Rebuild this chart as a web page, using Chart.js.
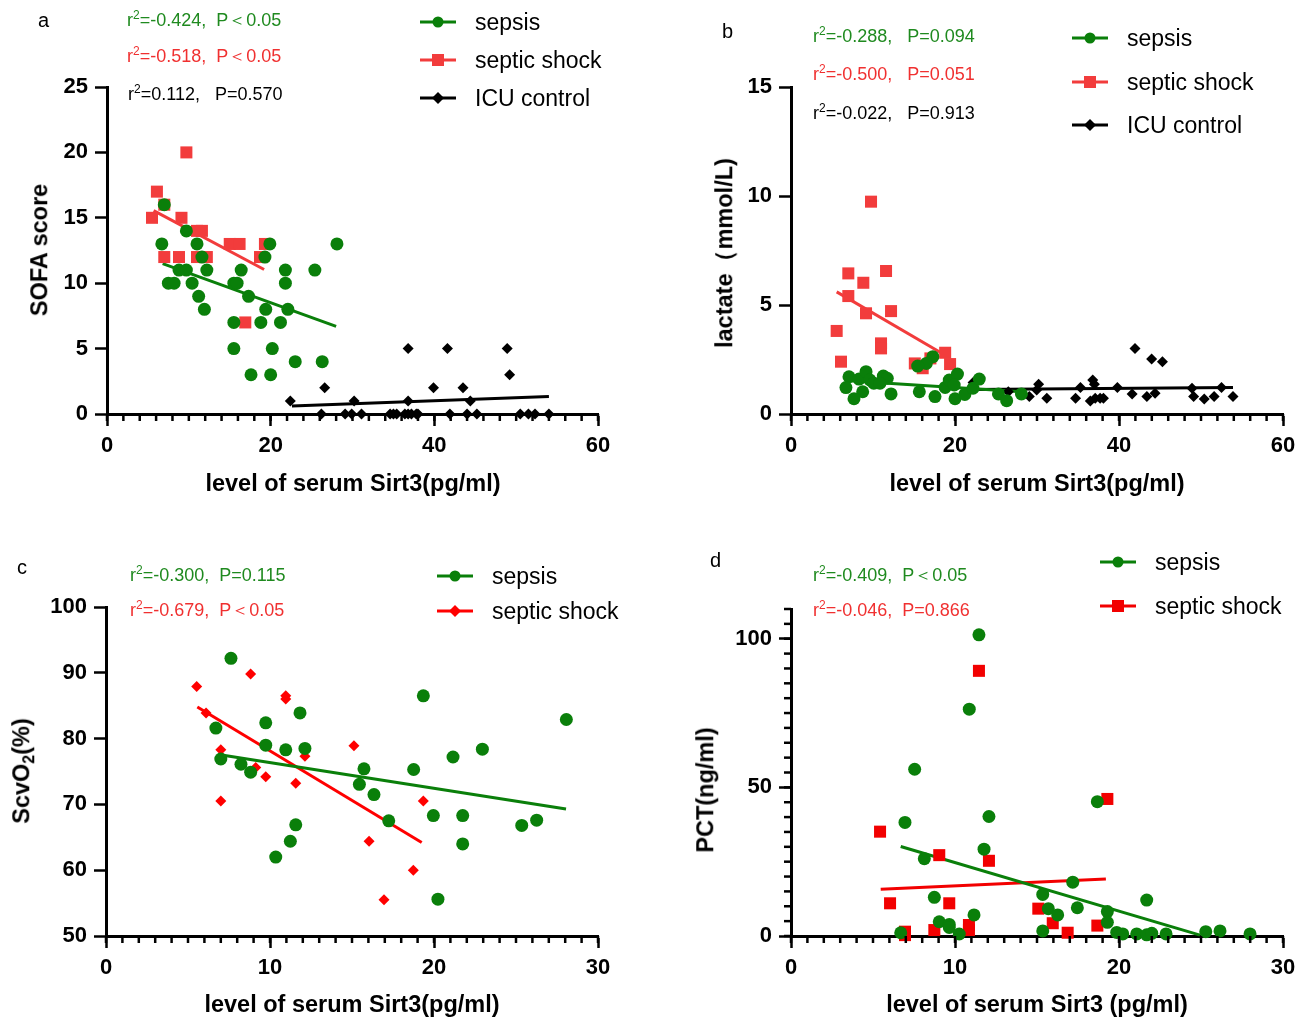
<!DOCTYPE html>
<html>
<head>
<meta charset="utf-8">
<script src="https://cdn.jsdelivr.net/npm/chart.js@4.4.0/dist/chart.umd.min.js"></script>
<style>
body{margin:0;background:#fff;width:1309px;height:1018px;position:relative;overflow:hidden;font-family:"Liberation Sans",Arial,sans-serif}
canvas{position:absolute;left:0;top:0}
.t{position:absolute;white-space:pre;line-height:1}
.note{font-size:18px}
.note sup{font-size:12px;vertical-align:0;position:relative;top:-7px}
.leg{font-size:23px}
.lab{font-size:20px}
.ttl{font-size:23.5px;font-weight:bold}
.rot{transform:translate(-50%,-50%) rotate(-90deg)}
.hc{transform:translate(-50%,-50%)}
.g{color:#1f8a1f}.r{color:#f03030}.k{color:#000}
</style>
</head>
<body>
<canvas id="ca" width="1309" height="1018"></canvas>
<canvas id="cb" width="1309" height="1018"></canvas>
<canvas id="cc" width="1309" height="1018"></canvas>
<canvas id="cd" width="1309" height="1018"></canvas>

<!-- panel letters -->
<div class="t lab" style="left:38px;top:10px">a</div>
<div class="t lab" style="left:722px;top:21px">b</div>
<div class="t lab" style="left:17px;top:557px">c</div>
<div class="t lab" style="left:710px;top:550px">d</div>

<!-- r2 notes -->
<div class="t note g" style="left:127px;top:11px">r<sup>2</sup>=-0.424,  P＜0.05</div>
<div class="t note r" style="left:127px;top:47px">r<sup>2</sup>=-0.518,  P＜0.05</div>
<div class="t note k" style="left:128px;top:85px">r<sup>2</sup>=0.112,   P=0.570</div>
<div class="t note g" style="left:813px;top:27px">r<sup>2</sup>=-0.288,   P=0.094</div>
<div class="t note r" style="left:813px;top:65px">r<sup>2</sup>=-0.500,   P=0.051</div>
<div class="t note k" style="left:813px;top:104px">r<sup>2</sup>=-0.022,   P=0.913</div>
<div class="t note g" style="left:130px;top:566px">r<sup>2</sup>=-0.300,  P=0.115</div>
<div class="t note r" style="left:130px;top:601px">r<sup>2</sup>=-0.679,  P＜0.05</div>
<div class="t note g" style="left:813px;top:566px">r<sup>2</sup>=-0.409,  P＜0.05</div>
<div class="t note r" style="left:813px;top:601px">r<sup>2</sup>=-0.046,  P=0.866</div>

<!-- legends -->
<div id="legends"></div>

<!-- axis titles -->
<div class="t ttl rot" style="left:40px;top:250px">SOFA score</div>
<div class="t ttl hc" style="left:353px;top:484px">level of serum Sirt3(pg/ml)</div>
<div class="t ttl rot" style="left:725px;top:253px">lactate（mmol/L)</div>
<div class="t ttl hc" style="left:1037px;top:484px">level of serum Sirt3(pg/ml)</div>
<div class="t ttl rot" style="left:22px;top:771px">ScvO<span style="font-size:16px;position:relative;top:5px">2</span>(%)</div>
<div class="t ttl hc" style="left:352px;top:1005px">level of serum Sirt3(pg/ml)</div>
<div class="t ttl rot" style="left:706px;top:790px">PCT(ng/ml)</div>
<div class="t ttl hc" style="left:1037px;top:1005px">level of serum Sirt3 (pg/ml)</div>

<script>
// panel a: SOFA score
const aSepsis = [[7.0,16],[6.7,13],[9.7,14],[11.0,13],[11.6,12],[19.9,13],[19.3,12],[28.1,13],[8.8,11],[9.7,11],
  [12.2,11],[16.4,11],[21.8,11],[25.4,11],[7.5,10],[8.2,10],[10.4,10],[15.5,10],[15.9,10],[21.8,10],[11.2,9],
  [17.3,9],[11.9,8],[19.4,8],[22.1,8],[15.5,7],[18.8,7],[21.2,7],[15.5,5],[20.2,5],[23.0,4],[26.3,4],[17.6,3],[20.0,3]];
const aShock = [[9.7,20],[6.1,17],[5.5,15],[9.1,15],[11.0,14],[11.6,14],[7.0,16],[7.0,12],[8.8,12],[11.0,12],
  [12.2,12],[15.0,13],[16.2,13],[19.3,13],[18.7,12],[16.9,7]];
const aControl = [[36.8,5],[41.6,5],[48.9,5],[49.2,3],[26.6,2],[39.9,2],[43.5,2],[22.4,1],[30.2,1],[36.8,1],[44.4,1],
  [26.2,0],[29.1,0],[29.9,0],[31.1,0],[34.6,0],[35.0,0],[35.4,0],[36.4,0],[36.8,0],[37.2,0],[37.8,0],[38.0,0],
  [41.9,0],[44.0,0],[45.2,0],[50.5,0],[51.5,0],[52.3,0],[54.0,0]];
const aSepsisFit = [[6.8,11.5],[28.0,6.7]];
const aShockFit = [[5.7,15.55],[19.2,11.05]];
const aControlFit = [[22.6,0.61],[54.0,1.33]];

// panel b: lactate
const bSepsis = [[17.3,2.63],[16.5,2.32],[15.45,2.2],[7.07,1.71],[8.3,1.6],[9.15,1.94],[9.63,1.56],[10.1,1.41],
  [11.26,1.74],[11.74,1.64],[10.85,1.41],[6.7,1.21],[8.74,1.02],[7.68,0.7],[12.2,0.92],[15.65,1.02],[17.56,0.8],
  [18.8,1.22],[19.3,1.56],[20.3,1.83],[19.9,1.33],[20.0,0.7],[21.2,0.9],[22.2,1.18],[22.96,1.6],[25.3,0.92],
  [26.3,0.61],[28.1,0.92]];
const bShock = [[9.76,9.74],[6.99,6.45],[11.59,6.56],[8.82,6.02],[6.99,5.41],[9.15,4.62],[12.2,4.72],[5.57,3.81],
  [10.98,3.24],[10.98,3.01],[6.1,2.4],[15.1,2.32],[16.06,2.1],[17.0,2.55],[18.8,2.81],[19.4,2.29]];
const bControl = [[41.95,3.01],[43.98,2.52],[45.3,2.4],[22.2,1.44],[26.5,1.02],[29.06,0.8],[30.2,1.36],[29.96,1.1],
  [31.2,0.72],[34.7,0.72],[35.3,1.21],[36.8,1.56],[37.0,1.36],[36.5,0.6],[37.1,0.72],[37.7,0.72],[38.1,0.72],
  [39.8,1.21],[41.6,0.92],[43.4,0.8],[44.4,0.95],[48.9,1.18],[49.1,0.8],[50.4,0.69],[51.6,0.8],[52.5,1.21],[53.9,0.8]];
const bSepsisFit = [[7.0,1.53],[28.1,1.02]];
const bShockFit = [[5.57,5.6],[18.6,2.74]];
const bControlFit = [[22.2,1.12],[53.9,1.21]];

// panel c: ScvO2
const cSepsis = [[7.62,92.2],[11.83,83.9],[9.74,82.4],[6.7,81.6],[9.74,79.0],[10.96,78.3],[12.13,78.5],[7.0,76.9],
  [8.23,76.1],[8.82,74.9],[11.57,66.9],[11.24,64.4],[10.35,62.0],[19.35,86.5],[28.07,82.9],[22.95,78.4],
  [21.16,77.2],[15.73,75.4],[18.76,75.3],[15.45,73.05],[16.34,71.5],[17.24,67.5],[19.96,68.3],[21.75,68.3],
  [21.75,64.0],[25.35,66.8],[26.26,67.6],[20.24,55.6]];
const cShock = [[5.53,87.9],[8.82,89.8],[6.1,83.9],[10.96,86.5],[10.96,86.0],[7.0,78.3],[12.13,77.3],[9.13,75.6],
  [9.74,74.2],[11.57,73.2],[7.0,70.5],[15.12,78.9],[19.35,70.5],[16.04,64.4],[18.74,60.0],[16.95,55.5]];
const cSepsisFit = [[7.05,77.5],[28.05,69.3]];
const cShockFit = [[5.57,84.8],[19.25,64.2]];

// panel d: PCT
const dSepsis = [[11.46,101.3],[10.87,76.3],[7.54,56.1],[6.95,38.2],[12.07,40.2],[11.77,29.2],[8.13,26.0],[8.74,13.0],
  [9.04,4.8],[9.65,3.9],[9.65,2.9],[11.16,7.1],[10.26,0.67],[6.69,1.1],[18.68,45.2],[17.18,18.1],[15.35,14.0],
  [15.69,9.2],[16.26,7.1],[17.46,9.5],[15.35,1.7],[19.29,8.2],[19.29,4.6],[21.69,12.1],[19.86,1.2],[20.23,0.7],
  [21.08,0.7],[21.69,0.4],[22.0,0.9],[22.87,0.7],[25.29,1.45],[26.16,1.7],[27.99,0.7]];
const dShock = [[11.46,89.2],[5.43,35.1],[9.04,27.2],[12.07,25.3],[6.04,11.0],[9.65,11.0],[6.95,1.45],[6.95,0.3],
  [8.74,2.0],[10.85,3.7],[10.85,2.0],[19.29,46.1],[15.08,9.2],[15.96,4.3],[16.87,1.1],[18.68,3.5]];
const dSepsisFit = [[6.69,30.1],[24.94,0.3]];
const dShockFit = [[5.47,15.7],[19.2,19.2]];

const GREEN = '#0a7f0a', RED_AB = '#f23c3c', RED_C = '#ff0000', RED_D = '#f20000', BLACK = '#000';
const W = 1309, H = 1018, AX = 60;

Chart.defaults.font.family = '"Liberation Sans", Arial, sans-serif';

const pts = a => a.map(([x, y]) => ({x, y}));

function scatterSet(data, color, style, r, order) {
  return {data: pts(data), backgroundColor: color, borderColor: color, borderWidth: 0,
    pointStyle: style, pointRadius: r, order, clip: false};
}
function fitSet(data, color) {
  return {data: pts(data), showLine: true, borderColor: color, borderWidth: 3, pointRadius: 0,
    order: 10, clip: false};
}

// short ticks between the labelled ones
const minorTicks = {
  id: 'minor',
  afterDraw(chart, args, opts) {
    const ctx = chart.ctx;
    ctx.save();
    ctx.strokeStyle = '#000';
    ctx.lineWidth = 2.5;
    ['x', 'y'].forEach(k => {
      const step = opts[k];
      if (!step) return;
      const s = chart.scales[k];
      for (let v = s.min; v <= s.max + 1e-9; v += step) {
        const p = s.getPixelForValue(v);
        ctx.beginPath();
        if (k === 'x') { ctx.moveTo(p, s.top); ctx.lineTo(p, s.top + 7); }
        else { ctx.moveTo(s.right, p); ctx.lineTo(s.right - 7, p); }
        ctx.stroke();
      }
    });
    ctx.restore();
  }
};

function axis(o, horizontal) {
  return {
    type: 'linear', min: o.min, max: o.max,
    afterFit(s) { if (horizontal) s.height = AX; else s.width = AX; },
    afterBuildTicks(s) { s.ticks = s.ticks.filter(t => Math.abs(t.value / o.step - Math.round(t.value / o.step)) < 1e-6); },
    ticks: {stepSize: o.step, color: '#000', padding: 7, autoSkip: false, maxRotation: 0,
      font: {size: 22, weight: 'bold'}},
    grid: {drawOnChartArea: false, tickLength: 12, tickWidth: 2.5, tickColor: '#000'},
    border: {width: 3, color: '#000'}
  };
}

function panel(id, box, xs, ys, datasets) {
  new Chart(document.getElementById(id), {
    type: 'scatter',
    data: {datasets},
    options: {
      responsive: false, animation: false, events: [],
      layout: {padding: {left: box.l - AX, top: box.t, right: W - box.r, bottom: H - box.b - AX}},
      plugins: {legend: {display: false}, tooltip: {enabled: false}, minor: {x: xs.minor, y: ys.minor}},
      scales: {x: axis(xs, true), y: axis(ys, false)}
    },
    plugins: [minorTicks]
  });
}

panel('ca', {l: 107, r: 598, t: 87, b: 414},
  {min: 0, max: 60, step: 20, minor: 2}, {min: 0, max: 25, step: 5},
  [scatterSet(aSepsis, GREEN, 'circle', 6.5, 1), scatterSet(aShock, RED_AB, 'rect', 8.5, 2),
   scatterSet(aControl, BLACK, 'rectRot', 5.5, 3),
   fitSet(aSepsisFit, GREEN), fitSet(aShockFit, RED_AB), fitSet(aControlFit, BLACK)]);

panel('cb', {l: 791, r: 1283, t: 87, b: 414},
  {min: 0, max: 60, step: 20, minor: 2}, {min: 0, max: 15, step: 5},
  [scatterSet(bSepsis, GREEN, 'circle', 6.5, 1), scatterSet(bShock, RED_AB, 'rect', 8.5, 2),
   scatterSet(bControl, BLACK, 'rectRot', 5.5, 3),
   fitSet(bSepsisFit, GREEN), fitSet(bShockFit, RED_AB), fitSet(bControlFit, BLACK)]);

panel('cc', {l: 106, r: 598, t: 607, b: 936},
  {min: 0, max: 30, step: 10, minor: 1}, {min: 50, max: 100, step: 10},
  [scatterSet(cSepsis, GREEN, 'circle', 6.5, 1), scatterSet(cShock, RED_C, 'rectRot', 5.5, 2),
   fitSet(cSepsisFit, GREEN), fitSet(cShockFit, RED_C)]);

panel('cd', {l: 791, r: 1283, t: 609, b: 936},
  {min: 0, max: 30, step: 10, minor: 1}, {min: 0, max: 110, step: 50, minor: 5},
  [scatterSet(dSepsis, GREEN, 'circle', 6.5, 1), scatterSet(dShock, RED_D, 'rect', 8.5, 2),
   fitSet(dSepsisFit, GREEN), fitSet(dShockFit, RED_D)]);

// legends: line with marker, then label
const legendRows = [
  {x: 420, y: 22, color: GREEN, mark: 'circle', text: 'sepsis'},
  {x: 420, y: 60, color: RED_AB, mark: 'rect', text: 'septic shock'},
  {x: 420, y: 98, color: BLACK, mark: 'diamond', text: 'ICU control'},
  {x: 1072, y: 38, color: GREEN, mark: 'circle', text: 'sepsis'},
  {x: 1072, y: 82, color: RED_AB, mark: 'rect', text: 'septic shock'},
  {x: 1072, y: 125, color: BLACK, mark: 'diamond', text: 'ICU control'},
  {x: 437, y: 576, color: GREEN, mark: 'circle', text: 'sepsis'},
  {x: 437, y: 611, color: RED_C, mark: 'diamond', text: 'septic shock'},
  {x: 1100, y: 562, color: GREEN, mark: 'circle', text: 'sepsis'},
  {x: 1100, y: 606, color: RED_D, mark: 'rect', text: 'septic shock'}
];
const legHost = document.getElementById('legends');
legendRows.forEach(row => {
  let m;
  if (row.mark === 'circle') m = `<circle cx="18" cy="8" r="5.5" fill="${row.color}"/>`;
  else if (row.mark === 'rect') m = `<rect x="12" y="2" width="12" height="12" fill="${row.color}"/>`;
  else m = `<polygon points="18,2 24,8 18,14 12,8" fill="${row.color}"/>`;
  legHost.innerHTML += `<svg style="position:absolute;left:${row.x}px;top:${row.y - 8}px" width="36" height="16">
      <line x1="0" y1="8" x2="36" y2="8" stroke="${row.color}" stroke-width="3"/>${m}</svg>
    <div class="t leg" style="left:${row.x + 55}px;top:${row.y - 11}px">${row.text}</div>`;
});
</script>
</body>
</html>
